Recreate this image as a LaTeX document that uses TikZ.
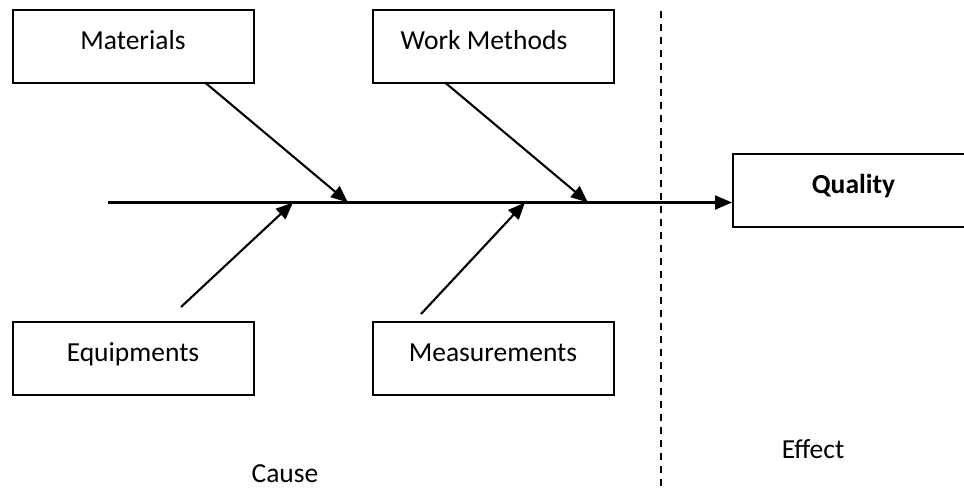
\documentclass[tikz,border=0pt]{standalone}
\usepackage{fontspec}
\setmainfont{Carlito}
\usetikzlibrary{arrows.meta}
\begin{document}
\begin{tikzpicture}[x=1pt,y=-1pt,
  txt/.style={font=\fontsize{27.5}{33}\selectfont},
  box/.style={txt,draw,line width=2pt,minimum width=241pt,minimum height=73pt,inner sep=0pt,text height=18pt,text depth=12pt},
  lbl/.style={txt,anchor=base,inner sep=0pt},
  arr/.style={line width=2.1pt,-{Triangle[length=17pt,width=14pt]}},
  divider/.style={line width=1.6pt,dash pattern=on 7pt off 6pt}]
\useasboundingbox (0,0) rectangle (964,488);
\clip (0,0) rectangle (964,488);
% boxes
\node[box] (mat) at (133,46) {Materials};
\node[box] (wm) at (493,46) {Work Methods\hspace*{18pt}};
\node[box] (eq) at (133,358.5) {Equipments};
\node[box] (meas) at (493,358.5) {Measurements};
\node[box,minimum width=281pt,font=\bfseries\fontsize{27.5}{33}\selectfont] (q) at (873.5,190.5) {Quality\hspace*{40pt}};
% labels
\node[lbl] (cause) at (285,482) {Cause};
\node[lbl] (effect) at (813,458) {Effect};
% spine
\coordinate (tail) at (108,202.5);
\draw[arr] (tail) -- (tail -| q.west);
% branch coordinates
\coordinate (m0) at (205,82.5);
\coordinate (m1) at (348,202.5);
\coordinate (w0) at (445,82.5);
\coordinate (w1) at (588,202.5);
\coordinate (e0) at (181,307);
\coordinate (e1) at (293,202.5);
\coordinate (s0) at (421,314);
\coordinate (s1) at (525,202.5);
\draw[arr] (m0) -- (m1);
\draw[arr] (w0) -- (w1);
\draw[arr] (e0) -- (e1);
\draw[arr] (s0) -- (s1);
% divider
\coordinate (d0) at (661,11);
\coordinate (d1) at (661,488);
\draw[divider] (d0) -- (d1);
\end{tikzpicture}
\end{document}
